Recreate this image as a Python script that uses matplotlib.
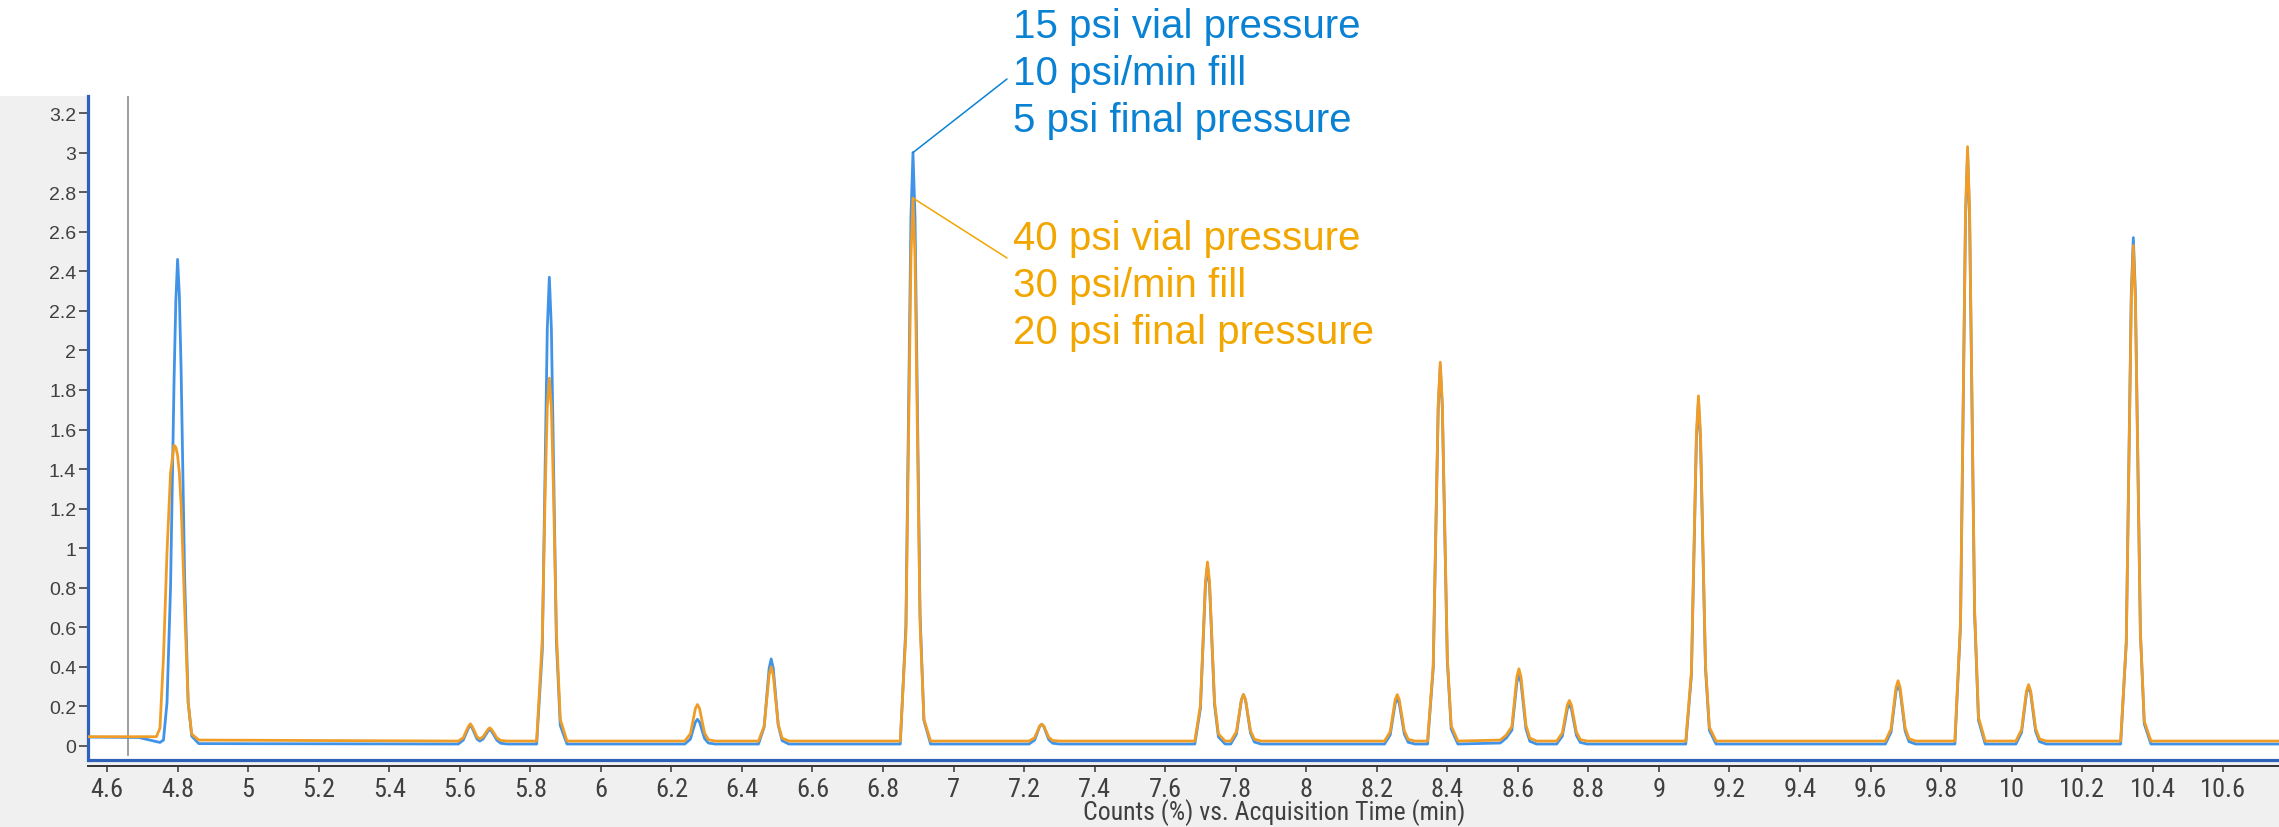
import matplotlib
matplotlib.use("Agg")
import matplotlib.pyplot as plt
from matplotlib.patches import Rectangle
from matplotlib import font_manager

time_min = [
    4.546, 4.690, 4.740, 4.750, 4.760, 4.770, 4.780, 4.790, 4.795, 4.800, 4.805, 4.810, 4.820, 4.830, 4.840, 4.860,
    5.596, 5.610, 5.619, 5.625, 5.630, 5.635, 5.641, 5.649, 5.657, 5.666, 5.674, 5.680, 5.685, 5.690, 5.696, 5.705, 5.716, 5.735,
    5.818, 5.834, 5.8425, 5.8482, 5.854, 5.8598, 5.8655, 5.874, 5.885, 5.904,
    6.238, 6.254, 6.2625, 6.2682, 6.274, 6.2798, 6.2855, 6.294, 6.305, 6.324,
    6.447, 6.463, 6.4715, 6.4772, 6.483, 6.4888, 6.4945, 6.503, 6.514, 6.533,
    6.849, 6.865, 6.8735, 6.8792, 6.885, 6.8908, 6.8965, 6.905, 6.916, 6.935,
    7.214, 7.230, 7.2385, 7.2442, 7.250, 7.2558, 7.2615, 7.270, 7.281, 7.300,
    7.684, 7.700, 7.7085, 7.7142, 7.720, 7.7258, 7.7315, 7.740, 7.751, 7.770,
    7.786, 7.802, 7.8105, 7.8162, 7.822, 7.8278, 7.8335, 7.842, 7.853, 7.872,
    8.222, 8.238, 8.2465, 8.2522, 8.258, 8.2638, 8.2695, 8.278, 8.289, 8.308,
    8.344, 8.360, 8.3685, 8.3742, 8.380, 8.3858, 8.3915, 8.400, 8.411, 8.430,
    8.550, 8.567, 8.583, 8.5915, 8.5972, 8.603, 8.6088, 8.6145, 8.623, 8.634, 8.653,
    8.710, 8.726, 8.7345, 8.7402, 8.746, 8.7518, 8.7575, 8.766, 8.777, 8.796,
    9.076, 9.092, 9.1005, 9.1062, 9.112, 9.1178, 9.1235, 9.132, 9.143, 9.162,
    9.642, 9.658, 9.6665, 9.6722, 9.678, 9.6838, 9.6895, 9.698, 9.709, 9.728,
    9.839, 9.855, 9.8635, 9.8692, 9.875, 9.8808, 9.8865, 9.895, 9.906, 9.925,
    10.012, 10.028, 10.0365, 10.0422, 10.048, 10.0538, 10.0595, 10.068, 10.079, 10.098,
    10.309, 10.325, 10.3335, 10.3392, 10.345, 10.3508, 10.3565, 10.365, 10.376, 10.395,
    10.760,
]

blue_counts = [
    0.045, 0.043, 0.022, 0.018, 0.030, 0.220, 0.800, 1.850, 2.250, 2.460, 2.280, 1.900, 0.850, 0.220, 0.050, 0.012,
    0.010, 0.030, 0.068, 0.092, 0.105, 0.092, 0.068, 0.035, 0.025, 0.035, 0.058, 0.075, 0.085, 0.075, 0.058, 0.030, 0.014, 0.010,
    0.010, 0.482, 1.473, 2.110, 2.370, 2.110, 1.473, 0.529, 0.104, 0.010,
    0.010, 0.035, 0.088, 0.121, 0.135, 0.121, 0.088, 0.038, 0.015, 0.010,
    0.010, 0.096, 0.277, 0.393, 0.440, 0.393, 0.277, 0.105, 0.027, 0.010,
    0.010, 0.608, 1.864, 2.671, 3.000, 2.671, 1.864, 0.668, 0.130, 0.010,
    0.010, 0.030, 0.072, 0.099, 0.110, 0.099, 0.072, 0.032, 0.014, 0.010,
    0.010, 0.190, 0.568, 0.811, 0.910, 0.811, 0.568, 0.208, 0.046, 0.010,
    0.010, 0.060, 0.165, 0.233, 0.260, 0.233, 0.165, 0.065, 0.020, 0.010,
    0.010, 0.056, 0.153, 0.215, 0.240, 0.215, 0.153, 0.061, 0.019, 0.010,
    0.010, 0.392, 1.194, 1.710, 1.920, 1.710, 1.194, 0.430, 0.086, 0.010,
    0.015, 0.040, 0.080, 0.227, 0.322, 0.360, 0.322, 0.227, 0.087, 0.024, 0.010,
    0.010, 0.050, 0.134, 0.188, 0.210, 0.188, 0.134, 0.054, 0.018, 0.010,
    0.010, 0.356, 1.083, 1.550, 1.740, 1.550, 1.083, 0.391, 0.079, 0.010,
    0.010, 0.070, 0.196, 0.277, 0.310, 0.277, 0.196, 0.076, 0.022, 0.010,
    0.010, 0.608, 1.864, 2.671, 3.000, 2.671, 1.864, 0.668, 0.130, 0.010,
    0.010, 0.068, 0.190, 0.268, 0.300, 0.268, 0.190, 0.074, 0.022, 0.010,
    0.010, 0.522, 1.597, 2.288, 2.570, 2.288, 1.597, 0.573, 0.112, 0.010,
    0.010,
]

orange_counts = [
    0.047, 0.047, 0.047, 0.090, 0.450, 0.980, 1.380, 1.520, 1.510, 1.470, 1.380, 1.220, 0.700, 0.220, 0.060, 0.030,
    0.025, 0.042, 0.078, 0.100, 0.112, 0.100, 0.078, 0.046, 0.036, 0.046, 0.068, 0.084, 0.092, 0.084, 0.068, 0.042, 0.028, 0.025,
    0.025, 0.539, 1.310, 1.713, 1.860, 1.713, 1.310, 0.576, 0.135, 0.025,
    0.025, 0.062, 0.140, 0.190, 0.210, 0.190, 0.140, 0.066, 0.032, 0.025,
    0.025, 0.100, 0.258, 0.359, 0.400, 0.359, 0.258, 0.108, 0.040, 0.025,
    0.025, 0.574, 1.727, 2.468, 2.770, 2.468, 1.727, 0.629, 0.135, 0.025,
    0.025, 0.042, 0.078, 0.101, 0.110, 0.101, 0.078, 0.044, 0.028, 0.025,
    0.025, 0.206, 0.586, 0.830, 0.930, 0.830, 0.586, 0.224, 0.061, 0.025,
    0.025, 0.072, 0.171, 0.234, 0.260, 0.234, 0.171, 0.077, 0.034, 0.025,
    0.025, 0.072, 0.171, 0.234, 0.260, 0.234, 0.171, 0.077, 0.034, 0.025,
    0.025, 0.408, 1.212, 1.729, 1.940, 1.729, 1.212, 0.446, 0.102, 0.025,
    0.030, 0.055, 0.098, 0.251, 0.350, 0.390, 0.350, 0.251, 0.105, 0.040, 0.025,
    0.025, 0.066, 0.152, 0.207, 0.230, 0.207, 0.152, 0.070, 0.033, 0.025,
    0.025, 0.374, 1.107, 1.578, 1.770, 1.578, 1.107, 0.409, 0.095, 0.025,
    0.025, 0.086, 0.214, 0.296, 0.330, 0.296, 0.214, 0.092, 0.037, 0.025,
    0.025, 0.626, 1.888, 2.699, 3.030, 2.699, 1.888, 0.686, 0.145, 0.025,
    0.025, 0.082, 0.202, 0.279, 0.310, 0.279, 0.202, 0.088, 0.036, 0.025,
    0.025, 0.526, 1.578, 2.254, 2.530, 2.254, 1.578, 0.576, 0.125, 0.025,
    0.025,
]

x_ticks = [4.6, 4.8, 5.0, 5.2, 5.4, 5.6, 5.8, 6.0, 6.2, 6.4, 6.6, 6.8, 7.0, 7.2, 7.4, 7.6, 7.8,
           8.0, 8.2, 8.4, 8.6, 8.8, 9.0, 9.2, 9.4, 9.6, 9.8, 10.0, 10.2, 10.4, 10.6]
x_tick_labels = ["4.6", "4.8", "5", "5.2", "5.4", "5.6", "5.8", "6", "6.2", "6.4", "6.6", "6.8", "7",
                 "7.2", "7.4", "7.6", "7.8", "8", "8.2", "8.4", "8.6", "8.8", "9", "9.2", "9.4", "9.6",
                 "9.8", "10", "10.2", "10.4", "10.6"]
y_ticks = [0, 0.2, 0.4, 0.6, 0.8, 1.0, 1.2, 1.4, 1.6, 1.8, 2.0, 2.2, 2.4, 2.6, 2.8, 3.0, 3.2]
y_tick_labels = ["0", "0.2", "0.4", "0.6", "0.8", "1", "1.2", "1.4", "1.6", "1.8", "2", "2.2",
                 "2.4", "2.6", "2.8", "3", "3.2"]

blue_label = ["15 psi vial pressure", "10 psi/min fill", "5 psi final pressure"]
orange_label = ["40 psi vial pressure", "30 psi/min fill", "20 psi final pressure"]
annot_time = 6.885
blue_annot_value = 3.00
orange_annot_value = 2.77
x_title = "Counts (%) vs. Acquisition Time (min)"
cursor_time = 4.66

# ---------------- styling ----------------
W, H = 2279, 828
BLUE_LINE = "#4193e8"
ORANGE_LINE = "#f09d28"
BLUE_TEXT = "#0a82d4"
ORANGE_TEXT = "#f2a600"
FRAME_BLUE = "#2e62b8"
TICK_COL = "#333333"
LABEL_COL = "#404040"
SANS = ["Liberation Sans", "DejaVu Sans"]

installed = {f.name for f in font_manager.fontManager.ttflist}
narrow_name = next((n for n in ("Liberation Sans Narrow", "Roboto Condensed", "Open Sans Condensed",
                                "DejaVu Sans Condensed") if n in installed), None)
if narrow_name is not None:
    AXIS_FONT = [narrow_name] + SANS
    XTICK_SIZE, TITLE_SIZE = 19, 18.5
else:
    AXIS_FONT = SANS
    XTICK_SIZE, TITLE_SIZE = 16, 16

fig = plt.figure(figsize=(W / 100, H / 100), dpi=100)
fig.patch.set_facecolor("white")
fig.add_artist(Rectangle((0, 0), 1, 1 - 97 / H, transform=fig.transFigure,
                         facecolor="#f0f0f0", edgecolor="none", zorder=-10))

ax_left, ax_right, ax_top, ax_bottom = 88, W, 97, 761
ax = fig.add_axes([ax_left / W, (H - ax_bottom) / H, (ax_right - ax_left) / W, (ax_bottom - ax_top) / H])
ax.set_facecolor("white")

ax.plot(time_min, blue_counts, color=BLUE_LINE, lw=2.0, zorder=3, solid_joinstyle="round")
ax.plot(time_min, orange_counts, color=ORANGE_LINE, lw=2.0, zorder=4, solid_joinstyle="round")
ax.axvline(cursor_time, ymin=0.008, ymax=1, color="#8c8c8c", lw=1.2, zorder=2)

ax.set_xlim(4.546, 10.758)
ax.set_ylim(-0.0708, 3.286)

for s in ("top", "right"):
    ax.spines[s].set_visible(False)
ax.spines["left"].set_color(FRAME_BLUE)
ax.spines["left"].set_linewidth(2.3)
ax.spines["bottom"].set_position(("outward", 4))
ax.spines["bottom"].set_color(TICK_COL)
ax.spines["bottom"].set_linewidth(1.4)
ax.plot([0, 1], [0, 0], transform=ax.transAxes, color=FRAME_BLUE, lw=2.3,
        clip_on=False, zorder=6, solid_capstyle="butt")

ax.set_yticks(y_ticks)
ax.set_yticklabels(y_tick_labels, fontfamily=SANS, fontsize=14, color=LABEL_COL)
ax.set_xticks(x_ticks)
ax.set_xticklabels(x_tick_labels, fontfamily=AXIS_FONT, fontsize=XTICK_SIZE, color=LABEL_COL)
ax.tick_params(axis="y", direction="out", length=6.5, width=1.1, color=TICK_COL, pad=2)
ax.tick_params(axis="x", direction="out", length=4.5, width=1.1, color=TICK_COL, pad=4)

fig.text(1274 / W, 1 - 813 / H, x_title, ha="center", va="center",
         fontfamily=AXIS_FONT, fontsize=TITLE_SIZE, color=LABEL_COL)

# annotations
text_x = 1013 / W
for i, line in enumerate(blue_label):
    fig.text(text_x, 1 - (27 + 47 * i) / H, line, ha="left", va="center",
             fontfamily=SANS, fontsize=29, color=BLUE_TEXT)
for i, line in enumerate(orange_label):
    fig.text(text_x, 1 - (238.5 + 47.5 * i) / H, line, ha="left", va="center",
             fontfamily=SANS, fontsize=29, color=ORANGE_TEXT)

ax.annotate("", xy=(annot_time, blue_annot_value), xycoords="data",
            xytext=(1007 / W, 1 - 80 / H), textcoords="figure fraction",
            arrowprops=dict(arrowstyle="-", color=BLUE_TEXT, lw=1.1, shrinkA=0, shrinkB=0),
            annotation_clip=False)
ax.annotate("", xy=(annot_time, orange_annot_value), xycoords="data",
            xytext=(1007 / W, 1 - 259 / H), textcoords="figure fraction",
            arrowprops=dict(arrowstyle="-", color=ORANGE_TEXT, lw=1.1, shrinkA=0, shrinkB=0),
            annotation_clip=False)

fig.savefig("out.png", dpi=100, facecolor=fig.get_facecolor())
